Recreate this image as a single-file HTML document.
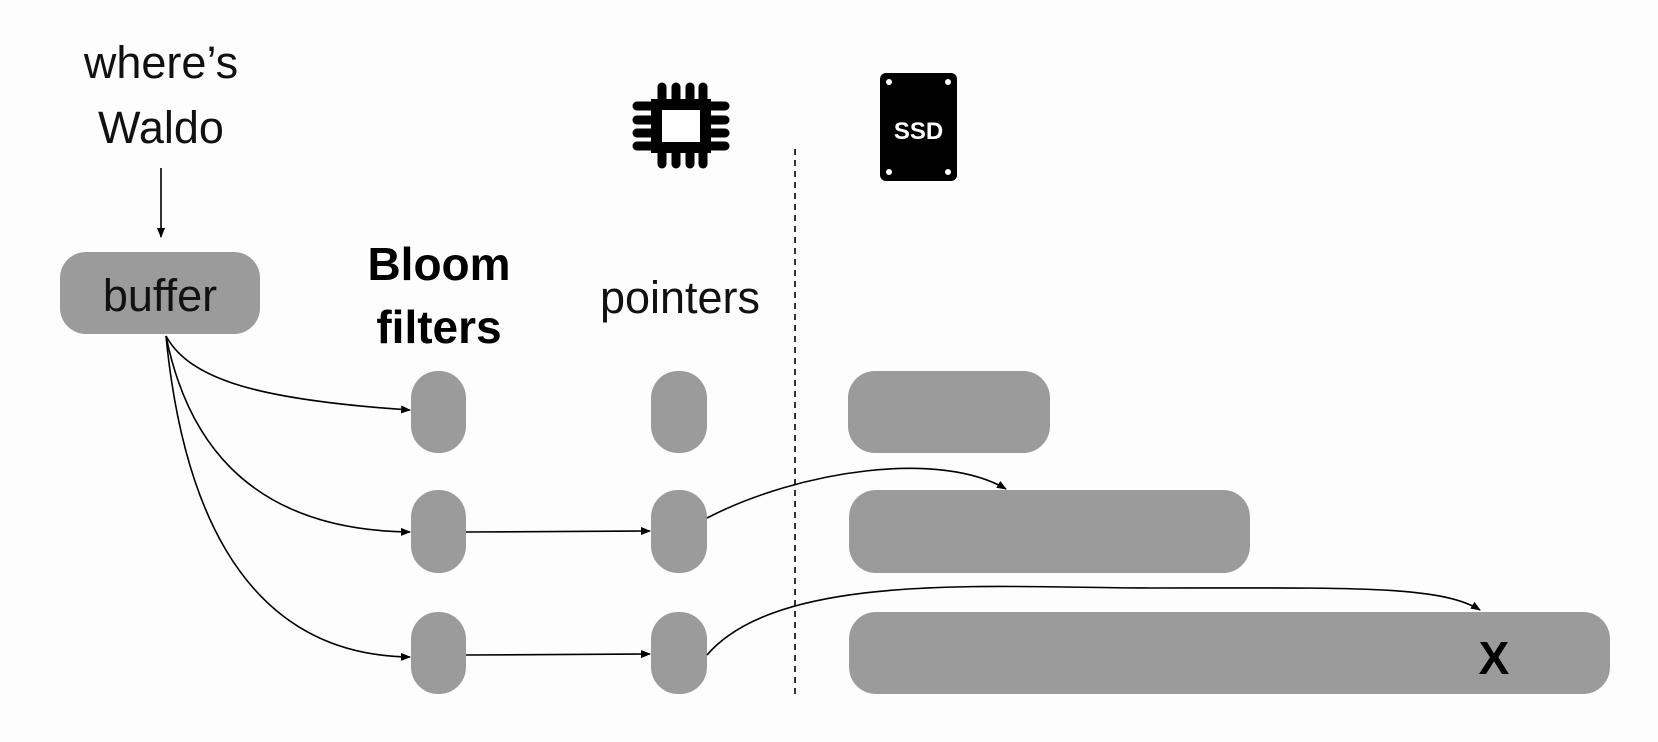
<!DOCTYPE html>
<html><head><meta charset="utf-8"><style>
html,body{margin:0;padding:0;background:#fdfdfd;}
svg{display:block;font-family:"Liberation Sans",sans-serif;}
</style></head><body>
<svg width="1658" height="742" viewBox="0 0 1658 742">
<defs><marker id="ah" markerWidth="10" markerHeight="8" refX="9" refY="4" orient="auto" markerUnits="userSpaceOnUse"><path d="M0,0 L10,4 L0,8 z" fill="#000"/></marker></defs>
<rect width="1658" height="742" fill="#fdfdfd"/>
<g font-size="45" text-anchor="middle" fill="#111">
<text x="161" y="78">where’s</text><text x="161" y="143">Waldo</text></g>
<line x1="161" y1="168" x2="161" y2="237" stroke="#000" stroke-width="1.6" marker-end="url(#ah)"/>
<rect x="60" y="252" width="200" height="82" rx="26" fill="#9a9b9a"/>
<text x="160" y="311" font-size="45" text-anchor="middle" fill="#111">buffer</text>
<g font-size="46" font-weight="bold" text-anchor="middle" fill="#000">
<text x="439" y="280">Bloom</text><text x="439" y="343">filters</text></g>
<text x="680" y="313" font-size="45" text-anchor="middle" fill="#111">pointers</text>
<g fill="none" stroke="#000" stroke-linecap="round">
<rect x="651" y="99" width="60" height="54" fill="#000" stroke="none"/>
<rect x="662" y="110" width="38" height="32" fill="#fff" stroke="none"/>
<g stroke-width="9"><line x1="662" y1="87" x2="662" y2="164"/><line x1="676" y1="87" x2="676" y2="164"/><line x1="690" y1="87" x2="690" y2="164"/><line x1="703" y1="87" x2="703" y2="164"/>
<line x1="637" y1="106" x2="725" y2="106"/><line x1="637" y1="120" x2="725" y2="120"/><line x1="637" y1="133" x2="725" y2="133"/><line x1="637" y1="146" x2="725" y2="146"/></g>
<rect x="651" y="99" width="60" height="54" fill="#000" stroke="none"/>
<rect x="662" y="110" width="38" height="32" fill="#fff" stroke="none"/>
</g>
<g>
<rect x="880" y="73" width="77" height="108" rx="6" fill="#000"/>
<circle cx="889" cy="82" r="3" fill="#fff"/><circle cx="948" cy="82" r="3" fill="#fff"/><circle cx="889" cy="172" r="3" fill="#fff"/><circle cx="948" cy="172" r="3" fill="#fff"/>
<text x="918.5" y="139" font-size="24" font-weight="bold" text-anchor="middle" fill="#fff">SSD</text></g>
<line x1="795" y1="149" x2="795" y2="694" stroke="#000" stroke-width="1.6" stroke-dasharray="6,5"/>
<g fill="#9a9b9a">
<rect x="411" y="371" width="55" height="82" rx="27"/>
<rect x="411" y="490" width="55" height="83" rx="27"/>
<rect x="411" y="612" width="55" height="82" rx="27"/>
<rect x="651" y="371" width="56" height="82" rx="27"/>
<rect x="651" y="490" width="56" height="83" rx="27"/>
<rect x="651" y="612" width="56" height="82" rx="27"/>
<rect x="848" y="371" width="202" height="82" rx="27"/>
<rect x="849" y="490" width="401" height="83" rx="27"/>
<rect x="849" y="612" width="761" height="82" rx="27"/>
</g>
<text x="1494" y="674" font-size="46" font-weight="bold" text-anchor="middle" fill="#000">X</text>
<g fill="none" stroke="#000" stroke-width="1.6" marker-end="url(#ah)">
<path d="M166,336 C190,380 260,400 410,410"/>
<path d="M166,336 C185,430 240,530 410,532"/>
<path d="M166,336 C180,480 230,655 410,657"/>
<path d="M466,532 L650,531"/>
<path d="M466,655 L650,654"/>
<path d="M707,518 C800,470 940,450 1006,489"/>
<path d="M707,655 C780,570 1000,588 1150,588 C1350,588 1440,585 1480,610"/>
</g>
</svg>
</body></html>
